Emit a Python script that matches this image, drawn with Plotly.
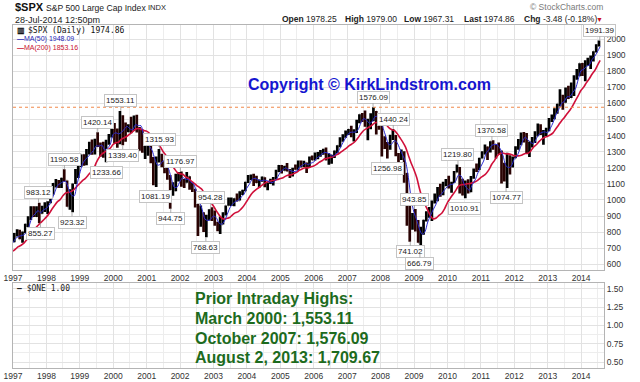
import plotly.graph_objects as go
import pandas as pd

# ---------------- data (S&P 500 monthly) ----------------
close_1996 = [645.50, 654.17, 669.12, 670.63, 639.95, 651.99, 687.33, 705.27, 757.02, 740.74]  # Mar-Dec 1996

high = [
    794.67, 817.68, 814.90, 804.13, 851.87, 898.70, 961.35, 960.32, 960.59, 983.12, 963.98, 986.25,
    992.65, 1050.66, 1105.65, 1130.52, 1123.95, 1138.49, 1190.58, 1121.00, 1066.11, 1102.47, 1192.97, 1244.93,
    1282.00, 1283.74, 1316.55, 1362.00, 1375.98, 1381.00, 1420.14, 1357.00, 1361.00, 1374.00, 1410.00, 1473.00,
    1478.00, 1444.55, 1553.11, 1527.00, 1481.51, 1470.00, 1517.32, 1525.21, 1530.09, 1454.00, 1438.00, 1389.00,
    1383.37, 1376.38, 1267.42, 1269.30, 1315.93, 1286.62, 1239.78, 1226.27, 1155.40, 1110.61, 1163.38, 1173.62,
    1176.97, 1130.20, 1173.94, 1147.84, 1106.59, 1070.00, 994.46, 965.00, 924.02, 907.44, 941.82, 954.28,
    935.05, 864.64, 895.90, 924.24, 965.38, 1015.33, 1015.41, 1011.01, 1040.29, 1053.79, 1063.65, 1112.56,
    1155.38, 1158.98, 1163.23, 1150.57, 1127.74, 1146.34, 1140.84, 1108.00, 1131.54, 1142.05, 1188.46, 1217.33,
    1217.80, 1212.44, 1229.11, 1191.88, 1199.56, 1219.59, 1245.15, 1245.86, 1243.13, 1233.34, 1270.64, 1275.80,
    1294.90, 1297.57, 1310.88, 1318.16, 1326.70, 1290.68, 1280.42, 1306.74, 1340.28, 1389.45, 1407.89, 1431.81,
    1441.61, 1461.57, 1438.89, 1498.02, 1532.43, 1540.56, 1555.90, 1503.89, 1538.74, 1576.09, 1552.76, 1523.57,
    1471.77, 1396.02, 1359.68, 1404.57, 1440.24, 1404.05, 1292.17, 1313.15, 1303.04, 1167.03, 1007.51, 918.85,
    943.85, 875.01, 832.98, 877.24, 930.17, 956.23, 996.68, 1039.47, 1080.15, 1101.36, 1113.69, 1130.38,
    1150.45, 1112.42, 1180.16, 1219.80, 1205.13, 1131.23, 1120.95, 1129.24, 1148.67, 1196.14, 1227.08, 1262.60,
    1302.67, 1344.07, 1332.28, 1364.56, 1370.58, 1345.20, 1356.48, 1307.38, 1230.71, 1292.66, 1277.55, 1269.37,
    1333.47, 1378.04, 1419.15, 1422.38, 1415.32, 1363.46, 1391.74, 1426.68, 1474.51, 1470.96, 1434.27, 1448.00,
    1509.94, 1530.94, 1570.28, 1597.57, 1687.18, 1654.19, 1698.78, 1709.67, 1729.86, 1775.22, 1813.55, 1849.44,
    1850.84, 1867.92, 1883.97, 1897.28, 1924.03, 1968.17, 1991.39,
]
low = [
    737.01, 773.43, 756.13, 733.54, 793.21, 828.00, 876.29, 893.93, 894.48, 855.27, 914.62, 924.92,
    912.83, 979.07, 1032.16, 1076.70, 1074.39, 1074.67, 1114.30, 957.28, 939.98, 923.32, 1098.67, 1136.89,
    1205.46, 1211.89, 1216.03, 1282.56, 1281.41, 1283.00, 1328.50, 1268.37, 1263.00, 1233.66, 1343.00, 1387.38,
    1350.00, 1325.07, 1346.60, 1339.40, 1361.09, 1420.00, 1413.89, 1428.00, 1419.44, 1305.79, 1294.00, 1254.07,
    1274.62, 1228.00, 1091.99, 1081.19, 1232.00, 1203.03, 1165.54, 1124.87, 944.75, 1026.76, 1054.31, 1114.93,
    1081.66, 1074.36, 1106.73, 1063.46, 1048.96, 952.92, 775.68, 833.44, 800.20, 768.63, 872.05, 870.00,
    840.00, 806.29, 788.90, 847.85, 902.83, 963.59, 962.10, 960.84, 990.36, 995.97, 1031.20, 1053.41,
    1105.08, 1124.44, 1087.06, 1105.00, 1076.32, 1113.32, 1078.78, 1060.72, 1099.18, 1090.19, 1127.60, 1173.37,
    1163.75, 1180.95, 1176.84, 1136.15, 1146.18, 1188.30, 1183.55, 1201.07, 1205.35, 1168.20, 1201.07, 1246.59,
    1245.74, 1253.61, 1268.42, 1280.74, 1245.34, 1219.29, 1224.54, 1261.30, 1290.93, 1327.10, 1360.98, 1385.93,
    1403.97, 1389.42, 1363.98, 1416.37, 1476.70, 1484.18, 1454.25, 1370.60, 1439.29, 1489.56, 1406.10, 1435.65,
    1270.05, 1316.75, 1256.98, 1312.00, 1373.07, 1272.00, 1200.44, 1248.48, 1106.39, 839.80, 741.02, 815.69,
    804.47, 734.52, 666.79, 783.32, 866.10, 888.86, 869.32, 978.51, 991.97, 1020.18, 1029.38, 1085.89,
    1071.59, 1044.50, 1105.36, 1170.69, 1040.78, 1028.33, 1010.91, 1039.70, 1048.08, 1131.87, 1173.00, 1186.60,
    1257.62, 1282.86, 1249.05, 1294.70, 1311.80, 1258.07, 1282.86, 1101.54, 1114.22, 1074.77, 1158.66, 1202.37,
    1258.86, 1312.41, 1340.03, 1357.38, 1291.98, 1266.74, 1325.41, 1354.65, 1396.56, 1403.28, 1343.35, 1398.11,
    1426.19, 1485.01, 1501.48, 1536.03, 1581.28, 1560.33, 1604.57, 1627.47, 1633.41, 1646.47, 1746.20, 1767.99,
    1770.45, 1737.92, 1834.44, 1814.36, 1859.79, 1915.98, 1952.86,
]
close = [
    786.16, 790.82, 757.12, 801.34, 848.28, 885.14, 954.31, 899.47, 947.28, 914.62, 955.40, 970.43,
    980.28, 1049.34, 1101.75, 1111.75, 1090.82, 1133.84, 1120.67, 957.28, 1017.01, 1098.67, 1163.63, 1229.23,
    1279.64, 1238.33, 1286.37, 1335.18, 1301.84, 1372.71, 1328.72, 1320.41, 1282.71, 1362.93, 1388.91, 1469.25,
    1394.46, 1366.42, 1498.58, 1452.43, 1420.60, 1454.60, 1430.83, 1517.68, 1436.51, 1429.40, 1314.95, 1320.28,
    1366.01, 1239.94, 1160.33, 1249.46, 1255.82, 1224.42, 1211.23, 1133.58, 1040.94, 1059.78, 1139.45, 1148.08,
    1130.20, 1106.73, 1147.39, 1076.92, 1067.14, 989.82, 911.62, 916.07, 815.28, 885.76, 936.31, 879.82,
    855.70, 841.15, 848.18, 916.92, 963.59, 974.50, 990.31, 1008.01, 995.97, 1050.71, 1058.20, 1111.92,
    1131.13, 1144.94, 1126.21, 1107.30, 1120.68, 1140.84, 1101.72, 1104.24, 1114.58, 1130.20, 1173.82, 1211.92,
    1181.27, 1203.60, 1180.59, 1156.85, 1191.50, 1191.33, 1234.18, 1220.33, 1228.81, 1207.01, 1249.48, 1248.29,
    1280.08, 1280.66, 1294.83, 1310.61, 1270.09, 1270.20, 1276.66, 1303.82, 1335.85, 1377.94, 1400.63, 1418.30,
    1438.24, 1406.82, 1420.86, 1482.37, 1530.62, 1503.35, 1455.27, 1473.99, 1526.75, 1549.38, 1481.14, 1468.36,
    1378.55, 1330.63, 1322.70, 1385.59, 1400.38, 1280.00, 1267.38, 1282.83, 1166.36, 968.75, 896.24, 903.25,
    825.88, 735.09, 797.87, 872.81, 919.14, 919.32, 987.48, 1020.62, 1057.08, 1036.19, 1095.63, 1115.10,
    1073.87, 1104.49, 1169.43, 1186.69, 1089.41, 1030.71, 1101.60, 1049.33, 1141.20, 1183.26, 1180.55, 1257.64,
    1286.12, 1327.22, 1325.83, 1363.61, 1345.20, 1320.64, 1292.28, 1218.89, 1131.42, 1253.30, 1246.96, 1257.60,
    1312.41, 1365.68, 1408.47, 1397.91, 1310.33, 1362.16, 1379.32, 1406.58, 1440.67, 1412.16, 1416.18, 1426.19,
    1498.11, 1514.68, 1569.19, 1597.57, 1630.74, 1606.28, 1685.73, 1632.97, 1681.55, 1756.54, 1805.81, 1848.36,
    1782.59, 1859.45, 1872.34, 1883.95, 1923.57, 1960.23, 1974.86,
]
first_month = "1997-01-01"
last_date = "2014-07-28"

label_dates = ["1997-10-28", "1997-10-07", "1998-07-17", "1998-10-08", "1999-07-16", "1999-10-18",
               "2000-03-24", "2000-04-14", "2001-05-22", "2001-04-04", "2001-09-21", "2002-01-04",
               "2002-12-02", "2002-10-10", "2007-10-11", "2008-05-19", "2008-03-17", "2009-01-06",
               "2008-11-21", "2009-03-06", "2010-04-26", "2010-07-01", "2011-05-02", "2011-10-04",
               "2014-07-24"]
label_values = [855.27, 983.12, 1190.58, 923.32, 1420.14, 1233.66, 1553.11, 1339.40, 1315.93, 1081.19,
                944.75, 1176.97, 954.28, 768.63, 1576.09, 1440.24, 1256.98, 943.85, 741.02, 666.79,
                1219.80, 1010.91, 1370.58, 1074.77, 1991.39]
label_kind = ["L", "H", "H", "L", "H", "L", "H", "L", "H", "L", "L", "H", "H", "L", "H", "H", "L", "H",
              "L", "L", "H", "L", "H", "L", "H"]

prior_high = 1576.09
one_value = 1.00
ma50_last, ma200_last = 1948.09, 1853.16
quote_labels = ["Open", "High", "Low", "Last", "Chg"]
quote_values = ["1978.25", "1979.00", "1967.31", "1974.86", "-3.48 (-0.18%)"]
y_ticks = list(range(600, 2001, 100))
y2_ticks = [0.50, 0.75, 1.00, 1.25, 1.50]
highs_text = ["Prior Intraday Highs:", "March 2000: 1,553.11", "October 2007: 1,576.09",
              "August 2, 2013: 1,709.67"]

# ---------------- derived series ----------------
months = pd.date_range(first_month, periods=len(close), freq="MS")
bar_x = months + pd.Timedelta(days=14)
opens = [close_1996[-1]] + close[:-1]

all_close = pd.Series(close_1996 + close, dtype=float)
all_x = list(pd.date_range("1996-03-01", periods=len(all_close), freq="MS") + pd.offsets.MonthEnd(0))
all_x[-1] = pd.Timestamp(last_date)
ma50 = all_close.rolling(3).mean()
ma200 = all_close.rolling(10).mean()

# ---------------- geometry helpers ----------------
W, H = 640, 382
L, R, T, B = 13, 36, 25, 14
PW, PH = W - L - R, H - T - B


def px(x):
    return (x - L) / PW


def py(y):
    return (H - B - y) / PH


FONT = "Liberation Sans, Arial, sans-serif"
MONO = "DejaVu Sans Mono, monospace"

fig = go.Figure()
fig.add_trace(go.Ohlc(
    x=bar_x, open=opens, high=high, low=low, close=close,
    increasing=dict(line=dict(color="#000000", width=2.7)),
    decreasing=dict(line=dict(color="#2a0303", width=2.7)),
    tickwidth=0.08, xaxis="x", yaxis="y", showlegend=False, hoverinfo="skip"))
fig.add_trace(go.Scatter(x=all_x, y=ma200, mode="lines",
                         line=dict(color="#d0103a", width=1.6, shape="spline", smoothing=0.8),
                         xaxis="x", yaxis="y", showlegend=False, hoverinfo="skip"))
fig.add_trace(go.Scatter(x=all_x, y=ma50, mode="lines",
                         line=dict(color="#2a2ad0", width=1.0, shape="spline", smoothing=0.8),
                         xaxis="x", yaxis="y", showlegend=False, hoverinfo="skip"))
fig.add_trace(go.Scatter(x=[months[0], last_date], y=[one_value, one_value], mode="lines",
                         line=dict(color="rgba(0,0,0,0)", width=1), xaxis="x2", yaxis="y2",
                         showlegend=False, hoverinfo="skip"))

grid = "#e2e2e2"
minor_grid = "#ededed"
axis_line = "#b4b4b4"
tickfont = dict(family=FONT, size=8.5, color="#333333")
xcommon = dict(type="date", range=["1997-01-01", "2014-09-08"], tick0="1997-01-01", dtick="M12",
               tickformat="%Y", showgrid=True, gridcolor=grid, gridwidth=1,
               minor=dict(dtick="M6", showgrid=True, gridcolor=minor_grid),
               showline=True, mirror=True, linecolor=axis_line, linewidth=1,
               ticks="", tickfont=tickfont, zeroline=False, fixedrange=True, automargin=False)

main_bottom = py(269.5)
low_top = py(283)

fig.update_layout(
    template="none",
    width=W, height=H, margin=dict(l=L, r=R, t=T, b=B, pad=0, autoexpand=False),
    paper_bgcolor="white", plot_bgcolor="white", showlegend=False,
    xaxis=dict(domain=[0, 1], anchor="y", rangeslider=dict(visible=False), **xcommon),
    xaxis2=dict(domain=[0, 1], anchor="y2", matches="x", **xcommon),
    yaxis=dict(domain=[main_bottom, 1], anchor="x", side="right", range=[568, 2087],
               tickvals=y_ticks, showgrid=True, gridcolor=grid, showline=True, mirror=True,
               linecolor=axis_line, ticks="", tickfont=tickfont, zeroline=False, fixedrange=True,
               automargin=False),
    yaxis2=dict(domain=[0, low_top], anchor="x2", side="right", range=[0.42, 1.58],
                tickvals=y2_ticks, ticktext=[f"{v:.2f}" for v in y2_ticks],
                showgrid=True, gridcolor=grid, minor=dict(dtick=0.125, showgrid=True, gridcolor=minor_grid),
                showline=True, mirror=True, linecolor=axis_line, ticks="", tickfont=tickfont,
                zeroline=False, fixedrange=True, automargin=False),
)

fig.add_shape(type="line", xref="x domain", x0=0, x1=1, yref="y", y0=prior_high, y1=prior_high,
              line=dict(color="#f0884a", width=1, dash="dot"))

ann = []
# price labels
for d, v, k in zip(label_dates, label_values, label_kind):
    ann.append(dict(x=d, y=v, xref="x", yref="y", text=f"{v:.2f}", showarrow=True,
                    ax=0, ay=(-10 if k == "H" else 10), arrowhead=0, arrowwidth=0.8,
                    arrowcolor="#9a9a9a", standoff=0,
                    font=dict(family=FONT, size=8, color="#222222"),
                    bgcolor="white", bordercolor="#c4c4c4", borderwidth=1, borderpad=1))


def txt(x, y, text, size, color="#111111", family=FONT, xanchor="left"):
    ann.append(dict(x=px(x), y=py(y), xref="paper", yref="paper", text=text, showarrow=False,
                    xanchor=xanchor, yanchor="middle", font=dict(family=family, size=size, color=color)))


# header
txt(13, 7, "<b>$SPX</b>", 11, "#111111")
txt(44, 7.5, "S&amp;P 500 Large Cap Index", 8.6, "#222222")
txt(146, 7.5, "INDX", 7.5, "#222222")
txt(13, 20, "28-Jul-2014 12:50pm", 9, "#222222")
txt(605, 7, "© StockCharts.com", 8.5, "#7a7a7a", xanchor="right")
for lab, val, xx in zip(quote_labels, quote_values, [280, 343, 402, 462, 522]):
    txt(xx, 19.5, f"<b>{lab}</b> {val}", 8.5, "#222222")
txt(605, 19.5, "▼", 7, "#cc1020", xanchor="right")

# in-panel legends
txt(15, 30, "<b>▥</b>", 8, "#111111")
txt(26, 30, f"$SPX (Daily) {quote_values[3]}", 8, "#111111", family=MONO)
txt(15, 38.5, f"<b>—</b>MA(50) {ma50_last:.2f}", 7, "#2424b4")
txt(15, 47.5, f"<b>—</b>MA(200) {ma200_last:.2f}", 7, "#c8102e")
txt(15, 288, f"<b>—</b> $ONE {one_value:.2f}", 8, "#222222", family=MONO)

# copyright
txt(369, 84, "<b>Copyright © KirkLindstrom.com</b>", 16, "#1515d0", xanchor="center")

# green notes
for t, yy in zip(highs_text, [298, 318, 338, 357]):
    txt(193, yy, f"<b>{t}</b>", 16, "#1d6b1d")

fig.update_layout(annotations=ann)
fig.write_html("out.html", config={"displayModeBar": False, "staticPlot": True},
               post_script="document.body.style.margin='0px';document.body.style.padding='0px';")
